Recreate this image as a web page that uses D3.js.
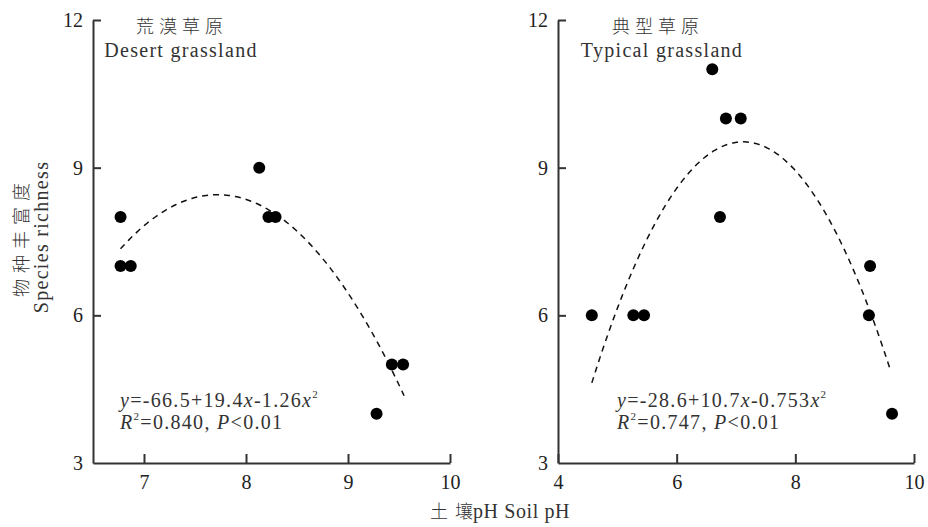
<!DOCTYPE html>
<html>
<head>
<meta charset="utf-8">
<script src="https://cdn.jsdelivr.net/npm/d3@7"></script>
<style>
  html, body { margin: 0; padding: 0; background: #fff; }
  svg { display: block; }
  text { font-family: "Liberation Serif", "Times New Roman", serif; fill: #2b2b2b; }
  .cjk { font-family: "Noto Sans CJK SC", sans-serif; font-weight: 300; }
</style>
</head>
<body>
<svg id="chart" width="928" height="527"></svg>
<script>
// ---- data ----
const desertPH = [6.77, 6.77, 6.87, 8.13, 8.22, 8.29, 9.28, 9.43, 9.54];
const desertRichness = [8, 7, 7, 9, 8, 8, 4, 5, 5];
const typicalPH = [4.57, 5.27, 5.45, 6.60, 6.73, 6.83, 7.08, 9.24, 9.26, 9.63];
const typicalRichness = [6, 6, 6, 11, 8, 10, 10, 6, 7, 4];

// drawn fit curves: coefficients [c0, c1, c2] of y = c0 + c1*x + c2*x^2, and x-range
const desertFit = [-64.26, 18.837, -1.22];
const desertFitRange = [6.77, 9.55];
const typicalFit = [-28.65, 10.723, -0.753];
const typicalFitRange = [4.57, 9.60];

const yTicks = [3, 6, 9, 12];
const desertXTicks = [7, 8, 9, 10];
const typicalXTicks = [4, 6, 8, 10];

const panels = [
  { xs: desertPH, ys: desertRichness, fit: desertFit, fitRange: desertFitRange,
    xDomain: [6.5, 10], xRange: [93, 450], xTicks: desertXTicks,
    titleCN: "荒漠草原", titleEN: "Desert grassland", cnX: 182, enX: 181,
    eq: ["-66.5+19.4", "-1.26"], r2: "=0.840, ", eqX: 120 },
  { xs: typicalPH, ys: typicalRichness, fit: typicalFit, fitRange: typicalFitRange,
    xDomain: [4, 10], xRange: [558, 914], xTicks: typicalXTicks,
    titleCN: "典型草原", titleEN: "Typical grassland", cnX: 658, enX: 662,
    eq: ["-28.6+10.7", "-0.753"], r2: "=0.747, ", eqX: 617 }
];

const svg = d3.select("#chart");
const y = d3.scaleLinear().domain([3, 12]).range([463, 20]);
const LS = "1.3px";
const SERIF = '"Liberation Serif", "Times New Roman", serif';

panels.forEach(p => {
  const x = d3.scaleLinear().domain(p.xDomain).range(p.xRange);
  const x0 = p.xRange[0];

  // y axis
  const ya = svg.append("g").attr("transform", `translate(${x0},0)`)
    .call(d3.axisLeft(y).tickValues(yTicks).tickFormat(d3.format("d"))
      .tickSizeInner(-8).tickSizeOuter(0).tickPadding(10));
  // x axis
  const xa = svg.append("g").attr("transform", `translate(0,${y(3)})`)
    .call(d3.axisBottom(x).tickValues(p.xTicks).tickFormat(d3.format("d"))
      .tickSizeInner(-9).tickSizeOuter(0).tickPadding(12));
  [ya, xa].forEach(a => {
    a.attr("font-family", null).attr("font-size", null);
    a.select(".domain").attr("stroke", "#333").attr("stroke-width", 2);
    a.selectAll(".tick line").attr("stroke", "#333").attr("stroke-width", 2);
    a.selectAll(".tick text").style("font-family", SERIF)
      .style("font-size", "20px").style("fill", "#222");
  });
  ya.selectAll(".tick").filter(d => d === 3).select("line").remove();

  // fit curve
  const f = v => p.fit[0] + p.fit[1] * v + p.fit[2] * v * v;
  const xsCurve = d3.range(p.fitRange[0], p.fitRange[1] + 1e-9, 0.02);
  svg.append("path")
    .datum(xsCurve)
    .attr("d", d3.line().x(v => x(v)).y(v => y(f(v))))
    .attr("fill", "none").attr("stroke", "#111").attr("stroke-width", 1.5)
    .attr("stroke-dasharray", "6,5");

  // points
  svg.append("g").selectAll("circle")
    .data(p.xs.map((v, i) => [v, p.ys[i]]))
    .join("circle")
    .attr("cx", d => x(d[0])).attr("cy", d => y(d[1])).attr("r", 6)
    .attr("fill", "#000");

  // titles
  svg.append("text").attr("class", "cjk").attr("x", p.cnX).attr("y", 33)
    .attr("text-anchor", "middle").attr("font-size", 18)
    .style("letter-spacing", "5px").style("fill", "#333").text(p.titleCN);
  svg.append("text").attr("x", p.enX).attr("y", 57)
    .attr("text-anchor", "middle").attr("font-size", 20)
    .style("letter-spacing", LS).style("fill", "#333").text(p.titleEN);

  // equation
  const e1 = svg.append("text").attr("x", p.eqX).attr("y", 407)
    .attr("font-size", 20).style("letter-spacing", LS).style("fill", "#333");
  e1.append("tspan").attr("font-style", "italic").text("y");
  e1.append("tspan").text("=" + p.eq[0]);
  e1.append("tspan").attr("font-style", "italic").text("x");
  e1.append("tspan").text(p.eq[1]);
  e1.append("tspan").attr("font-style", "italic").text("x");
  e1.append("tspan").attr("font-size", 11).attr("dy", -9).text("2");

  const e2 = svg.append("text").attr("x", p.eqX).attr("y", 429)
    .attr("font-size", 20).style("letter-spacing", LS).style("fill", "#333");
  e2.append("tspan").attr("font-style", "italic").text("R");
  e2.append("tspan").attr("font-size", 11).attr("dy", -9).text("2");
  e2.append("tspan").attr("dy", 9).text(p.r2);
  e2.append("tspan").attr("font-style", "italic").text("P");
  e2.append("tspan").text("<0.01");
});

// y-axis title
svg.append("text").attr("class", "cjk")
  .attr("transform", "translate(28,237) rotate(-90)")
  .attr("text-anchor", "middle").attr("font-size", 18)
  .style("letter-spacing", "6px").style("fill", "#333").text("物种丰富度");
svg.append("text")
  .attr("transform", "translate(48,237) rotate(-90)")
  .attr("text-anchor", "middle").attr("font-size", 20)
  .style("letter-spacing", LS).style("fill", "#333").text("Species richness");

// x-axis title
const xt = svg.append("text").attr("x", 500).attr("y", 518)
  .attr("text-anchor", "middle").attr("font-size", 20).style("fill", "#333");
xt.append("tspan").attr("class", "cjk").attr("font-size", 18)
  .style("letter-spacing", "7px").text("土");
xt.append("tspan").attr("class", "cjk").attr("font-size", 18).text("壤");
xt.append("tspan").style("letter-spacing", "0.6px").text("pH Soil pH");
</script>
</body>
</html>
